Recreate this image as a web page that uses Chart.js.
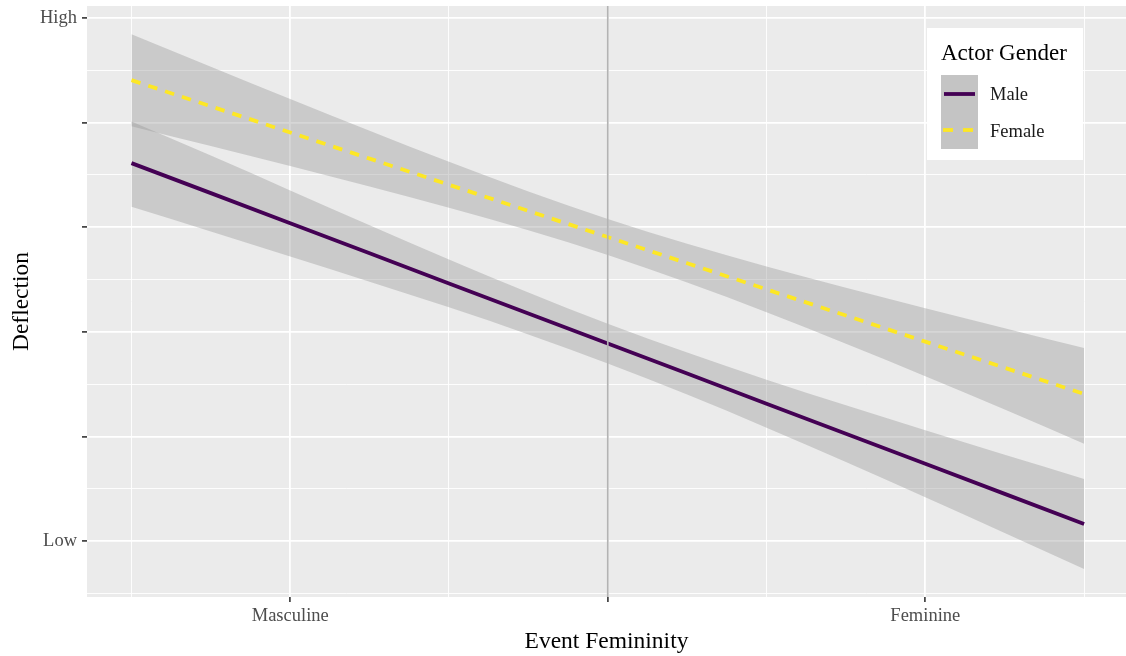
<!DOCTYPE html>
<html>
<head>
<meta charset="utf-8">
<script src="https://cdn.jsdelivr.net/npm/chart.js@4/dist/chart.umd.min.js"></script>
<style>
  html, body { margin: 0; padding: 0; background: #ffffff; }
  #wrap { width: 1126px; height: 656px; }
</style>
</head>
<body>
<div id="wrap"><canvas id="c" width="1126" height="656"></canvas></div>
<script>
// ---- Data ----
const X_VALUES = [-1.5, -1.25, -1, -0.75, -0.5, -0.25, 0, 0.25, 0.5, 0.75, 1, 1.25, 1.5];

const MALE_FIT   = [3.613, 3.326, 3.038, 2.751, 2.463, 2.176, 1.888, 1.601, 1.313, 1.026, 0.738, 0.451, 0.163];
const MALE_UPPER = [4.010, 3.685, 3.352, 3.020, 2.692, 2.377, 2.078, 1.802, 1.542, 1.297, 1.058, 0.824, 0.593];
const MALE_LOWER = [3.195, 2.960, 2.720, 2.480, 2.234, 1.975, 1.698, 1.400, 1.084, 0.755, 0.418, 0.078, -0.267];

const FEMALE_FIT   = [4.406, 4.156, 3.906, 3.656, 3.406, 3.156, 2.906, 2.656, 2.406, 2.156, 1.906, 1.656, 1.406];
const FEMALE_UPPER = [4.846, 4.535, 4.226, 3.922, 3.625, 3.341, 3.078, 2.841, 2.625, 2.422, 2.226, 2.035, 1.846];
const FEMALE_LOWER = [3.966, 3.777, 3.586, 3.390, 3.187, 2.971, 2.734, 2.471, 2.187, 1.885, 1.575, 1.258, 0.930];

const SERIES_NAMES = ['Male', 'Female'];
const LEGEND_TITLE = 'Actor Gender';

const X_TICKS = [-1.5, -1, -0.5, 0, 0.5, 1, 1.5];
const X_MAJOR = [-1, 0, 1];
const X_LABEL_VALUES = [-1, 1];
const X_LABELS = ['Masculine', 'Feminine'];

const Y_TICKS = [-0.5, 0, 0.5, 1, 1.5, 2, 2.5, 3, 3.5, 4, 4.5, 5];
const Y_MAJOR = [0, 1, 2, 3, 4, 5];
const Y_LABEL_VALUES = [0, 5];
const Y_LABELS = ['Low', 'High'];

const VLINE_X = 0;

const X_TITLE = 'Event Femininity';
const Y_TITLE = 'Deflection';

// ---- Helpers ----
const pts = (ys) => X_VALUES.map((x, i) => ({ x: x, y: ys[i] }));
const isIn = (arr, v) => arr.some(a => Math.abs(a - v) < 1e-9);
const FONT = "'Liberation Serif', 'Times New Roman', serif";
const MALE_COLOR = '#440154';
const FEMALE_COLOR = '#FDE725';
const RIBBON = 'rgba(153,153,153,0.4)';
const PANEL_BG = '#EBEBEB';

const panelBg = {
  id: 'panelBg',
  beforeDraw(chart) {
    const { ctx, chartArea: a } = chart;
    ctx.save();
    ctx.fillStyle = PANEL_BG;
    ctx.fillRect(a.left, a.top, a.right - a.left, a.bottom - a.top);
    ctx.restore();
  }
};

const vline = {
  id: 'vline',
  afterDatasetsDraw(chart) {
    const { ctx, chartArea: a, scales } = chart;
    const px = scales.x.getPixelForValue(VLINE_X);
    ctx.save();
    ctx.strokeStyle = '#B3B3B3';
    ctx.lineWidth = 1.7;
    ctx.beginPath();
    ctx.moveTo(px, a.top);
    ctx.lineTo(px, a.bottom);
    ctx.stroke();
    ctx.restore();
  }
};

const legendBox = {
  id: 'legendBox',
  afterDraw(chart) {
    const { ctx } = chart;
    const bx = 927, by = 28, bw = 156, bh = 132;
    ctx.save();
    ctx.fillStyle = '#ffffff';
    ctx.fillRect(bx, by, bw, bh);
    ctx.fillStyle = '#000000';
    ctx.font = '23px ' + FONT;
    ctx.textBaseline = 'alphabetic';
    ctx.textAlign = 'left';
    ctx.fillText(LEGEND_TITLE, 941, 60);
    // key backgrounds
    ctx.fillStyle = '#C4C4C4';
    ctx.fillRect(941, 75, 37, 74);
    // male key
    ctx.strokeStyle = MALE_COLOR;
    ctx.lineWidth = 3.8;
    ctx.setLineDash([]);
    ctx.beginPath(); ctx.moveTo(944, 94); ctx.lineTo(975, 94); ctx.stroke();
    // female key
    ctx.strokeStyle = FEMALE_COLOR;
    ctx.setLineDash([10, 10]);
    ctx.beginPath(); ctx.moveTo(943, 130); ctx.lineTo(973, 130); ctx.stroke();
    ctx.setLineDash([]);
    ctx.fillStyle = '#1a1a1a';
    ctx.font = '18.5px ' + FONT;
    ctx.textBaseline = 'middle';
    ctx.fillText(SERIES_NAMES[0], 990, 95);
    ctx.fillText(SERIES_NAMES[1], 990, 132);
    ctx.restore();
  }
};

const ribbonStyle = { borderWidth: 0, pointRadius: 0, borderColor: 'rgba(0,0,0,0)', cubicInterpolationMode: 'monotone' };

new Chart(document.getElementById('c'), {
  type: 'line',
  data: {
    datasets: [
      Object.assign({ label: 'Female upper', data: pts(FEMALE_UPPER), backgroundColor: RIBBON, fill: '+1' }, ribbonStyle),
      Object.assign({ label: 'Female lower', data: pts(FEMALE_LOWER), fill: false }, ribbonStyle),
      Object.assign({ label: 'Male upper', data: pts(MALE_UPPER), backgroundColor: RIBBON, fill: '+1' }, ribbonStyle),
      Object.assign({ label: 'Male lower', data: pts(MALE_LOWER), fill: false }, ribbonStyle),
      { label: SERIES_NAMES[0], data: pts(MALE_FIT), borderColor: MALE_COLOR, borderWidth: 3.8, pointRadius: 0, fill: false, borderCapStyle: 'butt' },
      { label: SERIES_NAMES[1], data: pts(FEMALE_FIT), borderColor: FEMALE_COLOR, borderWidth: 3.8, borderDash: [9.5, 8.2], pointRadius: 0, fill: false, borderCapStyle: 'butt' }
    ]
  },
  options: {
    responsive: false,
    animation: false,
    events: [],
    layout: { padding: { top: 6, right: 0, left: 0, bottom: 0 } },
    plugins: {
      legend: { display: false },
      tooltip: { enabled: false },
      filler: { drawTime: 'beforeDatasetsDraw' }
    },
    elements: { line: { tension: 0 } },
    scales: {
      x: {
        type: 'linear',
        min: -1.64,
        max: 1.632,
        afterBuildTicks: (s) => { s.ticks = X_TICKS.map(v => ({ value: v })); },
        afterFit: (s) => { s.height = 59; s.paddingLeft = 0; s.paddingRight = 0; },
        border: { display: false },
        grid: {
          color: '#ffffff',
          lineWidth: (c) => isIn(X_MAJOR, c.tick.value) ? 1.8 : 0.9,
          tickColor: (c) => isIn(X_MAJOR, c.tick.value) ? '#333333' : 'rgba(0,0,0,0)',
          tickWidth: 1.6,
          tickLength: 5,
          drawTicks: true
        },
        ticks: {
          autoSkip: false,
          maxRotation: 0,
          padding: 3,
          color: '#4D4D4D',
          font: { family: FONT, size: 18.5 },
          callback: (v) => { const i = X_LABEL_VALUES.findIndex(a => Math.abs(a - v) < 1e-9); return i >= 0 ? X_LABELS[i] : ''; }
        },
        title: {
          display: true,
          text: X_TITLE,
          color: '#000000',
          font: { family: FONT, size: 23.5 },
          padding: { top: 0, bottom: 0 }
        }
      },
      y: {
        type: 'linear',
        min: -0.535,
        max: 5.115,
        afterBuildTicks: (s) => { s.ticks = Y_TICKS.map(v => ({ value: v })); },
        afterFit: (s) => { s.width = 87; s.paddingTop = 0; s.paddingBottom = 0; },
        border: { display: false },
        grid: {
          color: '#ffffff',
          lineWidth: (c) => isIn(Y_MAJOR, c.tick.value) ? 1.8 : 0.9,
          tickColor: (c) => isIn(Y_MAJOR, c.tick.value) ? '#333333' : 'rgba(0,0,0,0)',
          tickWidth: 1.6,
          tickLength: 5,
          drawTicks: true
        },
        ticks: {
          autoSkip: false,
          padding: 5,
          color: '#4D4D4D',
          font: { family: FONT, size: 18.5 },
          callback: (v) => { const i = Y_LABEL_VALUES.findIndex(a => Math.abs(a - v) < 1e-9); return i >= 0 ? Y_LABELS[i] : ''; }
        },
        title: {
          display: true,
          text: Y_TITLE,
          color: '#000000',
          font: { family: FONT, size: 23.5 },
          padding: { top: 8, bottom: 0 }
        }
      }
    }
  },
  plugins: [panelBg, vline, legendBox]
});
</script>
</body>
</html>
